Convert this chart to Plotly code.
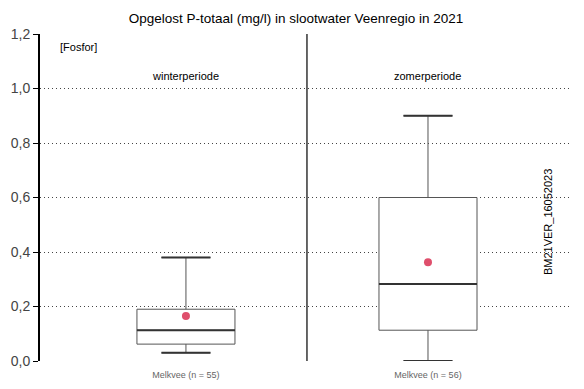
import plotly.graph_objects as go

# Data
periods = ["winterperiode", "zomerperiode"]
labels = ["Melkvee (n = 55)", "Melkvee (n = 56)"]
positions = [1, 2]
lower = [0.03, 0.0]
q1 = [0.062, 0.113]
median = [0.113, 0.283]
q3 = [0.19, 0.60]
upper = [0.38, 0.90]
means = [0.165, 0.362]
y_ticks = [0.0, 0.2, 0.4, 0.6, 0.8, 1.0, 1.2]

FONT = "Liberation Sans, Arial, sans-serif"
BOXW = 0.405
fig = go.Figure()

fig.add_trace(go.Box(
    x=positions, q1=q1, median=median, q3=q3,
    lowerfence=lower, upperfence=upper,
    width=BOXW, whiskerwidth=0.5,
    fillcolor="white", line=dict(color="#555555", width=1),
    boxpoints=False, showlegend=False, hoverinfo="skip"))

# thicker median lines and whisker caps
for i, p in enumerate(positions):
    fig.add_trace(go.Scatter(x=[p - BOXW / 2, p + BOXW / 2], y=[median[i], median[i]],
                             mode="lines", line=dict(color="#333333", width=2),
                             showlegend=False, hoverinfo="skip"))
    for v in (lower[i], upper[i]):
        fig.add_trace(go.Scatter(x=[p - BOXW / 4, p + BOXW / 4], y=[v, v],
                                 mode="lines", line=dict(color="#333333", width=2),
                                 showlegend=False, hoverinfo="skip"))

fig.add_trace(go.Scatter(x=positions, y=means, mode="markers",
                         marker=dict(color="#df4f6c", size=8),
                         showlegend=False, hoverinfo="skip"))

# separator
fig.add_shape(type="line", x0=1.5, x1=1.5, y0=0, y1=1.2, xref="x", yref="y",
              line=dict(color="black", width=1.2))

for p, name in zip(positions, periods):
    fig.add_annotation(x=p, y=1.045, xref="x", yref="y", text=name, showarrow=False,
                       font=dict(size=11, color="black", family=FONT))

fig.add_annotation(x=0.033, y=0.96, xref="paper", yref="paper", text="[Fosfor]",
                   showarrow=False, xanchor="left", yanchor="middle",
                   font=dict(size=11, color="black", family=FONT))

fig.add_annotation(x=0.955, y=0.425, xref="paper", yref="paper", text="BM21VER_16052023",
                   textangle=-90, showarrow=False, xanchor="center", yanchor="middle",
                   font=dict(size=11, color="black", family=FONT))

fig.update_layout(
    width=576, height=381,
    margin=dict(l=32, r=12, t=26, b=28),
    paper_bgcolor="white", plot_bgcolor="white",
    font=dict(family=FONT),
    separators=",.",
    title=dict(text="Opgelost P-totaal (mg/l) in slootwater Veenregio in 2021",
               x=0.5, xanchor="center", y=0.974, yanchor="middle",
               font=dict(size=13.5, color="black", family=FONT)),
    xaxis=dict(range=[0.397, 2.595], tickvals=positions, ticktext=labels,
               showgrid=False, zeroline=False, showline=False,
               ticks="outside", ticklen=5, tickcolor="rgba(0,0,0,0)",
               automargin=False,
               tickfont=dict(size=9, color="#666666", family=FONT)),
    yaxis=dict(range=[0, 1.2], tickvals=y_ticks, tickformat=".1f",
               showgrid=True, gridcolor="#444444", griddash="1px,3px", gridwidth=1,
               zeroline=False, showline=True, linecolor="black", linewidth=2,
               ticks="outside", ticklen=5, tickcolor="black", tickwidth=1,
               automargin=False,
               tickfont=dict(size=14, color="#444444", family=FONT)),
)

fig.write_html("out.html")
